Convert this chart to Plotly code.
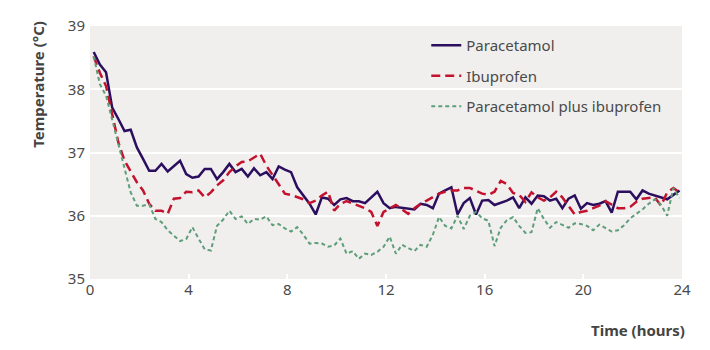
import plotly.graph_objects as go

# time grid (hours), one reading every 15 minutes
hours = [round(0.15 + 0.25 * k, 2) for k in range(96)]

paracetamol = [
    38.59, 38.39, 38.27, 37.71, 37.53, 37.34, 37.36, 37.08, 36.90, 36.71, 36.71, 36.82, 36.70, 36.79, 36.87, 36.66,
    36.60, 36.62, 36.74, 36.74, 36.58, 36.69, 36.82, 36.69, 36.74, 36.62, 36.75, 36.64, 36.69, 36.58, 36.78, 36.73,
    36.69, 36.45, 36.32, 36.19, 36.02, 36.29, 36.27, 36.17, 36.26, 36.28, 36.23, 36.23, 36.20, 36.29, 36.38, 36.20,
    36.12, 36.14, 36.13, 36.12, 36.10, 36.19, 36.17, 36.12, 36.35, 36.40, 36.45, 36.02, 36.20, 36.28, 36.02, 36.24,
    36.25, 36.17, 36.20, 36.24, 36.29, 36.12, 36.29, 36.19, 36.32, 36.31, 36.24, 36.27, 36.12, 36.27, 36.32, 36.11,
    36.20, 36.17, 36.19, 36.23, 36.05, 36.38, 36.38, 36.38, 36.26, 36.40, 36.35, 36.32, 36.29, 36.26, 36.33, 36.40,
]

ibuprofen = [
    38.52, 38.26, 38.05, 37.63, 37.16, 36.87, 36.69, 36.53, 36.40, 36.19, 36.08, 36.08, 36.03, 36.27, 36.28, 36.38,
    36.37, 36.40, 36.29, 36.37, 36.48, 36.56, 36.69, 36.78, 36.85, 36.86, 36.92, 36.98, 36.79, 36.64, 36.48, 36.35,
    36.33, 36.29, 36.26, 36.20, 36.24, 36.32, 36.38, 36.08, 36.19, 36.23, 36.19, 36.15, 36.12, 36.06, 35.84, 36.06,
    36.12, 36.17, 36.10, 36.03, 36.12, 36.19, 36.24, 36.29, 36.35, 36.38, 36.40, 36.40, 36.44, 36.44, 36.40, 36.35,
    36.33, 36.38, 36.55, 36.50, 36.36, 36.33, 36.22, 36.37, 36.29, 36.24, 36.29, 36.38, 36.29, 36.16, 36.02, 36.06,
    36.08, 36.12, 36.16, 36.23, 36.17, 36.12, 36.12, 36.14, 36.22, 36.27, 36.28, 36.29, 36.16, 36.37, 36.44, 36.37,
]

combined = [
    38.52, 38.08, 37.90, 37.50, 37.10, 36.75, 36.37, 36.16, 36.16, 36.18, 35.95, 35.90, 35.77, 35.68, 35.60, 35.63,
    35.82, 35.64, 35.47, 35.45, 35.84, 35.94, 36.08, 35.95, 35.99, 35.87, 35.95, 35.94, 35.99, 35.85, 35.87, 35.80,
    35.75, 35.82, 35.70, 35.56, 35.57, 35.56, 35.51, 35.53, 35.64, 35.40, 35.44, 35.32, 35.40, 35.38, 35.43, 35.51,
    35.67, 35.40, 35.54, 35.49, 35.44, 35.54, 35.51, 35.70, 35.98, 35.84, 35.80, 36.00, 35.79, 36.00, 36.06, 35.96,
    35.92, 35.52, 35.81, 35.93, 35.98, 35.84, 35.73, 35.74, 36.12, 35.95, 35.81, 35.90, 35.85, 35.81, 35.88, 35.87,
    35.84, 35.77, 35.86, 35.80, 35.75, 35.77, 35.85, 35.96, 36.03, 36.10, 36.19, 36.26, 36.17, 36.00, 36.44, 36.28,
]

x_ticks = [0, 4, 8, 12, 16, 20, 24]
y_ticks = [35, 36, 37, 38, 39]

FONT = "Noto Sans"
TXT = "#4a4a4a"

fig = go.Figure()
fig.add_trace(go.Scatter(x=hours, y=paracetamol, name="Paracetamol", mode="lines",
                         legendgroup="a",
                         line=dict(color="#2c0e5e", width=2.5)))
fig.add_trace(go.Scatter(x=hours, y=ibuprofen, name="Ibuprofen", mode="lines",
                         legendgroup="b",
                         line=dict(color="#c2122e", width=2.5, dash="9px,5px")))
fig.add_trace(go.Scatter(x=hours, y=combined, name="Paracetamol plus ibuprofen", mode="lines",
                         legendgroup="c",
                         line=dict(color="#5e9e78", width=2, dash="4px,3px")))

fig.update_layout(
    width=710, height=350,
    margin=dict(l=90, r=28, t=26, b=71),
    paper_bgcolor="white",
    plot_bgcolor="#f0efee",
    font=dict(family=FONT, size=15, color=TXT),
    showlegend=True,
    legend=dict(x=0.568, y=0.988, xanchor="left", yanchor="top",
                bgcolor="rgba(0,0,0,0)", tracegroupgap=8,
                font=dict(family=FONT, size=15, color=TXT)),
    xaxis=dict(range=[0, 24], tickvals=x_ticks, showgrid=False, zeroline=False,
               showline=False, ticks="inside", tickcolor="white", ticklen=5, tickwidth=2,
               tickfont=dict(size=15, color=TXT)),
    yaxis=dict(range=[35, 39], tickvals=y_ticks, showgrid=True, gridcolor="white",
               gridwidth=2, zeroline=False, showline=False, ticks="",
               ticklabelstandoff=4,
               tickfont=dict(size=15, color=TXT)),
)

fig.add_annotation(text="<b>Temperature (°C)</b>", textangle=-90,
                   xref="paper", yref="paper", x=-0.088, y=1.03,
                   xanchor="center", yanchor="top", showarrow=False,
                   font=dict(family=FONT, size=15, color="#444444"))
fig.add_annotation(text="<b>Time (hours)</b>",
                   xref="paper", yref="paper", x=1.008, y=-0.2016,
                   xanchor="right", yanchor="middle", showarrow=False,
                   font=dict(family=FONT, size=15, color="#444444"))

fig.write_html("out.html")
